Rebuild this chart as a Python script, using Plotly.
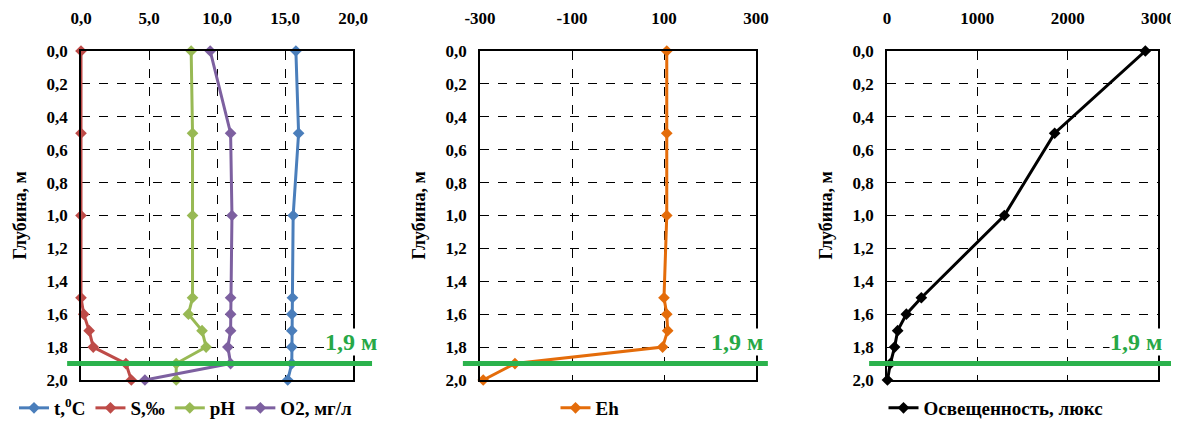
import plotly.graph_objects as go

# ---------------- data ----------------
depth = [0.0, 0.5, 1.0, 1.5, 1.6, 1.7, 1.8, 1.9, 2.0]
temp = [15.8, 16.0, 15.6, 15.55, 15.5, 15.5, 15.5, 15.5, 15.2]
salinity = [0.0, 0.0, 0.0, 0.0, 0.2, 0.6, 0.9, 3.3, 3.7]
ph = [8.1, 8.2, 8.2, 8.2, 7.9, 8.9, 9.2, 7.0, 7.0]
o2 = [9.5, 11.0, 11.1, 11.0, 11.0, 11.0, 10.8, 11.0, 4.7]
eh = [106, 106, 106, 100, 106, 108, 97, -224, -293]
light = [2860, 1856, 1299, 380, 214, 118, 84, 37, 5]

depth_ticks = [0.0, 0.2, 0.4, 0.6, 0.8, 1.0, 1.2, 1.4, 1.6, 1.8, 2.0]
depth_labels = ["0,0", "0,2", "0,4", "0,6", "0,8", "1,0", "1,2", "1,4", "1,6", "1,8", "2,0"]
x1_ticks = [0, 5, 10, 15, 20]
x1_labels = ["0,0", "5,0", "10,0", "15,0", "20,0"]
x2_ticks = [-300, -100, 100, 300]
x2_labels = ["-300", "-100", "100", "300"]
x3_ticks = [0, 1000, 2000, 3000]
x3_labels = ["0", "1000", "2000", "3000"]
y_title = "Глубина, м"
boundary_depth = 1.9
boundary_label = "1,9 м"

# ---------------- style ----------------
OFF = 8  # default page body margin
W, H = 1179 - OFF, 421 - OFF
FONT = "Liberation Serif, Times New Roman, serif"
GREEN = "#2BB24C"
GREEN_TXT = "#27A847"

def fx(px):
    return (px - OFF) / W

def fy(py):
    return 1 - (py - OFF) / H

panels = [(81, 353), (480, 756), (887, 1158)]
ytop, ybot = 51, 380

fig = go.Figure()

def add(name, xs, color, idx, legend):
    fig.add_trace(go.Scatter(
        x=xs, y=depth, name=name, mode="lines+markers",
        line=dict(color=color, width=3),
        marker=dict(symbol="diamond", size=9, color=color),
        cliponaxis=False,
        xaxis="x" if idx == 1 else f"x{idx}",
        yaxis="y" if idx == 1 else f"y{idx}",
        legend=legend,
    ))

add("t,<sup>0</sup>C", temp, "#4A7EBB", 1, "legend")
add("S,‰", salinity, "#BE4B48", 1, "legend")
add("pH", ph, "#98B954", 1, "legend")
add("O2, мг/л", o2, "#7D60A0", 1, "legend")
add("Eh", eh, "#E46C0A", 2, "legend2")
add("Освещенность, люкс", light, "#000000", 3, "legend3")

tickfont = dict(family=FONT, size=17, color="black", weight="bold")
layout = dict(
    width=W, height=H, margin=dict(l=0, r=0, t=0, b=0, autoexpand=False),
    paper_bgcolor="white", plot_bgcolor="white",
    font=dict(family=FONT, size=17, color="black"),
    showlegend=True,
)

xspecs = [(x1_ticks, x1_labels, [0, 20]), (x2_ticks, x2_labels, [-300, 300]), (x3_ticks, x3_labels, [0, 3000])]
for i, ((l, r), (tv, tt, rng)) in enumerate(zip(panels, xspecs), start=1):
    suf = "" if i == 1 else str(i)
    layout[f"xaxis{suf}"] = dict(
        domain=[fx(l), fx(r)], range=rng, side="top",
        anchor=f"y{suf}" if suf else "y",
        tickvals=tv, ticktext=tt, tickfont=tickfont,
        showgrid=True, gridcolor="black", griddash="dash", gridwidth=1,
        showline=True, linecolor="black", linewidth=1.5, mirror=True,
        zeroline=False, ticks="", ticklabelstandoff=18, automargin=False,
    )
    layout[f"yaxis{suf}"] = dict(
        domain=[fy(ybot), fy(ytop)], range=[2.0, 0.0],
        anchor=f"x{suf}" if suf else "x",
        tickvals=depth_ticks, ticktext=depth_labels, tickfont=tickfont,
        showgrid=True, gridcolor="black", griddash="dash", gridwidth=1,
        showline=True, linecolor="black", linewidth=1.5, mirror=True,
        zeroline=False, ticks="", ticklabelstandoff=8, automargin=False,
    )

legfont = dict(family=FONT, size=19, color="black", weight="bold")
LEG_Y = 408
layout["legend"] = dict(orientation="h", x=fx(14), y=fy(LEG_Y), xanchor="left", yanchor="middle",
                        font=legfont, itemwidth=30, tracegroupgap=0, bgcolor="rgba(0,0,0,0)")
layout["legend2"] = dict(orientation="h", x=fx(590), y=fy(LEG_Y), xanchor="center", yanchor="middle",
                         font=legfont, itemwidth=30, bgcolor="rgba(0,0,0,0)")
layout["legend3"] = dict(orientation="h", x=fx(996), y=fy(LEG_Y), xanchor="center", yanchor="middle",
                         font=legfont, itemwidth=30, bgcolor="rgba(0,0,0,0)")

fig.update_layout(**layout)

# y-axis titles
title_x = [19, 418, 825]
for tx in title_x:
    fig.add_annotation(xref="paper", yref="paper", x=fx(tx), y=fy((ytop + ybot) / 2),
                       text=y_title, textangle=-90, showarrow=False,
                       xanchor="center", yanchor="middle",
                       font=dict(family=FONT, size=18, color="black", weight="bold"))

# boundary lines and labels
line_ext = [(-0.051, 1.07), (-0.062, 1.043), (-0.066, 1.052)]
label_x = [351, 737, 1136]
for i, (x0, x1) in enumerate(line_ext, start=1):
    suf = "" if i == 1 else str(i)
    fig.add_shape(type="line", xref=f"x{suf} domain", yref=f"y{suf}",
                  x0=x0, x1=x1, y0=boundary_depth, y1=boundary_depth,
                  line=dict(color=GREEN, width=5), layer="above")
    fig.add_annotation(xref="paper", yref=f"y{suf}", x=fx(label_x[i - 1]), y=boundary_depth,
                       text=boundary_label, showarrow=False, xanchor="center",
                       yanchor="bottom", yshift=8,
                       font=dict(family=FONT, size=24, color=GREEN_TXT, weight="bold"),
                       bgcolor="white", borderpad=0)

fig.write_html("out.html")
